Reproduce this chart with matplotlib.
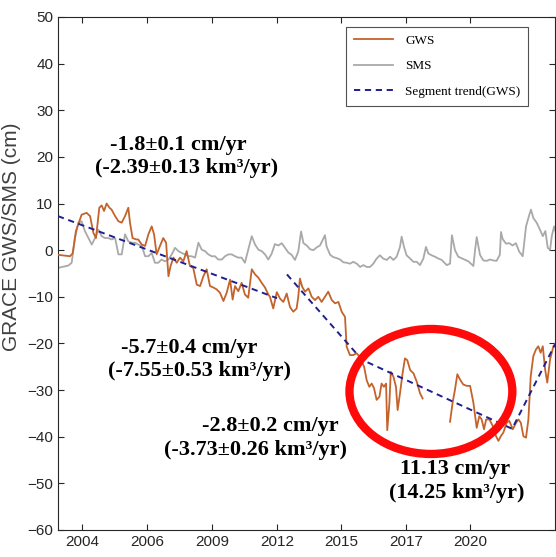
import matplotlib
matplotlib.use("Agg")
import matplotlib.pyplot as plt
from matplotlib.patches import Ellipse
import numpy as np

nan = np.nan

# ---------------- data ----------------
gws_t = [2003.00, 2003.16, 2003.51, 2003.62, 2003.76, 2004.00, 2004.21, 2004.36, 2004.50, 2004.61,
         2004.75, 2004.85, 2004.95, 2005.06, 2005.18, 2005.27, 2005.42, 2005.56, 2005.70, 2005.84,
         2005.98, 2006.05, 2006.16, 2006.31, 2006.40, 2006.55, 2006.69, 2006.83, 2006.97, 2007.07,
         2007.18, 2007.32, 2007.46, 2007.58, 2007.68, 2007.77, 2007.89, 2008.03, 2008.17, 2008.31,
         2008.45, 2008.59, 2008.73, 2008.88, 2009.02, 2009.16, 2009.30, 2009.44, 2009.58, 2009.72,
         2009.86, 2010.01, 2010.15, 2010.29, 2010.40, 2010.50, 2010.64, 2010.78, 2010.92, 2011.06,
         2011.21, 2011.35, 2011.49, 2011.63, 2011.77, 2011.91, 2011.98, 2012.12, 2012.27, 2012.41,
         2012.55, 2012.69, 2012.83, 2012.97, 2013.11, 2013.18, 2013.25, 2013.35, 2013.47, 2013.61,
         2013.75, 2013.89, 2014.03, 2014.17, 2014.31, 2014.45, 2014.60, 2014.74, 2014.88, 2015.02,
         2015.16, 2015.23, 2015.37, 2015.51, 2015.65, 2015.80, 2015.87, 2015.97, 2016.08, 2016.19,
         2016.29, 2016.39, 2016.50, 2016.62, 2016.71, 2016.81, 2016.90, 2016.95, 2017.04, 2017.10,
         2017.21, 2017.32, 2017.39, 2017.49, 2017.60, 2017.70, 2017.80, 2017.92, 2018.06, 2018.20,
         2018.34, 2018.45, 2019.00, 2019.61, 2019.72, 2019.82, 2019.92, 2020.03, 2020.17, 2020.32,
         2020.46, 2020.60, 2020.74, 2020.85, 2020.95, 2021.05, 2021.14, 2021.28, 2021.42, 2021.56,
         2021.66, 2021.76, 2021.87, 2022.01, 2022.12, 2022.27, 2022.41, 2022.51, 2022.61, 2022.72,
         2022.83, 2022.93, 2023.03, 2023.14, 2023.25, 2023.35, 2023.45, 2023.54, 2023.64, 2023.73,
         2023.85, 2023.99, 2024.10]
gws_v = [-1.0, -1.1, -1.3, -0.7, 4.1, 7.6, 8.0, 7.3, 3.7, 2.6,
         9.1, 9.6, 8.4, 10.0, 9.1, 8.7, 7.3, 6.2, 5.9, 7.3,
         9.1, 5.9, 2.6, 2.3, 2.3, 1.2, 0.9, 3.4, 5.1, 3.4,
         -0.9, 0.9, 2.6, 1.6, -5.6, -3.4, -1.6, -2.7, -1.6, -2.4,
         -0.2, -3.4, -3.8, -7.4, -7.7, -5.6, -4.1, -7.7, -8.0, -8.4,
         -9.1, -10.9, -9.1, -6.3, -10.6, -7.7, -8.8, -7.0, -9.5, -10.2,
         -4.1, -5.2, -5.9, -7.0, -8.0, -9.5, -10.0, -12.5, -9.0, -10.4,
         -11.1, -9.3, -12.2, -13.2, -12.5, -10.0, -6.1, -7.9, -8.9, -8.2,
         -10.0, -10.7, -10.0, -11.1, -10.0, -8.9, -10.7, -11.4, -11.1, -13.2,
         -14.3, -20.7, -22.5, -22.5, -22.1, -22.9, -23.9, -25.0, -27.9, -29.3,
         -28.6, -29.6, -32.1, -31.4, -28.6, -29.3, -28.6, -38.6, -32.9, -26.1,
         -27.1, -29.3, -34.3, -30.7, -26.4, -23.2, -23.6, -25.7, -26.4, -28.2,
         -30.7, -31.8, nan, -36.8, -32.7, -29.9, -26.6, -27.7, -28.8, -29.1,
         -29.1, -32.7, -38.1, -35.6, -36.3, -38.4, -36.3, -36.3, -37.7, -39.9,
         -40.9, -39.9, -39.1, -37.0, -36.6, -38.4, -37.0, -36.3, -37.0, -39.9,
         -40.2, -36.3, -27.0, -22.7, -21.3, -20.6, -22.0, -20.6, -25.6, -28.4,
         -23.4, -20.6, -19.9]

sms_t = [2003.00, 2003.44, 2003.58, 2003.72, 2003.86, 2004.00, 2004.14, 2004.29, 2004.43, 2004.57,
         2004.71, 2004.85, 2004.99, 2005.13, 2005.27, 2005.42, 2005.56, 2005.70, 2005.84, 2005.98,
         2006.12, 2006.26, 2006.40, 2006.55, 2006.69, 2006.83, 2006.97, 2007.11, 2007.25, 2007.39,
         2007.53, 2007.68, 2007.82, 2007.96, 2008.10, 2008.24, 2008.38, 2008.52, 2008.66, 2008.81,
         2008.95, 2009.09, 2009.23, 2009.37, 2009.51, 2009.65, 2009.79, 2009.94, 2010.08, 2010.22,
         2010.36, 2010.50, 2010.64, 2010.78, 2010.92, 2011.06, 2011.21, 2011.35, 2011.49, 2011.63,
         2011.77, 2011.91, 2012.05, 2012.19, 2012.34, 2012.48, 2012.62, 2012.76, 2012.90, 2013.04,
         2013.18, 2013.30, 2013.40, 2013.54, 2013.68, 2013.82, 2013.96, 2014.10, 2014.31, 2014.38,
         2014.53, 2014.67, 2014.81, 2014.95, 2015.09, 2015.23, 2015.37, 2015.51, 2015.66, 2015.80,
         2015.94, 2016.08, 2016.22, 2016.36, 2016.50, 2016.64, 2016.78, 2016.93, 2017.07, 2017.21,
         2017.35, 2017.49, 2017.56, 2017.66, 2017.77, 2017.92, 2018.06, 2018.20, 2018.34, 2018.48,
         2018.59, 2018.69, 2018.83, 2018.97, 2019.12, 2019.26, 2019.47, 2019.61, 2019.69, 2019.82,
         2019.96, 2020.17, 2020.39, 2020.60, 2020.67, 2020.74, 2020.88, 2021.02, 2021.16, 2021.30,
         2021.44, 2021.58, 2021.72, 2021.77, 2021.84, 2021.98, 2022.12, 2022.26, 2022.40, 2022.54,
         2022.69, 2022.83, 2022.97, 2023.04, 2023.14, 2023.28, 2023.42, 2023.54, 2023.65, 2023.75,
         2023.85, 2023.92, 2024.02, 2024.10]
sms_v = [-3.8, -3.3, -2.7, 2.6, 5.9, 6.2, 4.1, 2.6, 1.2, 2.6,
         4.4, 3.0, 2.6, 2.6, 2.3, 2.6, -0.9, -0.9, 3.4, 1.9,
         1.6, 1.6, 1.2, 0.9, -1.3, -1.3, -0.6, -2.7, -2.7, -2.0,
         -2.4, -2.0, -0.9, 0.5, -0.2, -0.6, -0.9, -1.3, -1.3, -1.6,
         1.6, 0.1, -0.2, -0.9, -1.3, -1.3, -2.0, -2.0, -1.3, -0.9,
         -0.9, -1.3, -1.6, -1.6, -2.7, 0.1, 3.0, 1.2, 0.1, -0.2,
         -0.9, -2.0, -0.8, 1.3, 1.0, 1.5, 0.5, -0.5, -1.0, -2.1,
         -0.3, 4.0, 1.5, 1.0, 0.2, 0.0, 0.6, 1.0, 3.2, 0.8,
         -1.0, -1.5, -1.7, -2.0, -2.6, -2.7, -2.9, -2.5, -2.9, -3.6,
         -3.2, -3.6, -3.6, -2.9, -1.8, -1.1, -1.8, -2.1, -1.4, -2.1,
         -1.4, 0.7, 2.9, 0.7, -1.1, -1.8, -2.5, -2.5, -3.2, -1.8,
         0.7, -0.7, -1.1, -1.4, -1.8, -2.1, -3.2, -2.9, 3.2, 0.0,
         -1.4, -1.9, -2.4, -3.4, 0.0, 2.8, -1.0, -2.2, -2.3, -2.0,
         -2.2, -2.3, -1.0, 3.9, 2.4, 1.4, 1.5, 1.0, 1.5, -0.3,
         -1.3, 5.1, 7.6, 8.7, 6.9, 5.9, 4.4, 3.0, 4.1, 0.5,
         0.1, 3.0, 5.1, 3.7]

trend_t = [2003.00, 2012.28, nan, 2012.70, 2015.88, 2022.24, 2024.06]
trend_v = [7.3, -10.3, nan, -5.2, -23.5, -38.3, -20.2]

xtick_pos = [2004.02, 2006.78, 2009.53, 2012.28, 2014.99, 2017.75, 2020.46]
xtick_labels = ["2004", "2006", "2009", "2012", "2015", "2017", "2020"]
yticks = list(range(-60, 51, 10))

annotations = [
    ("-1.8\u00b10.1 cm/yr", 0.320, 0.740),
    ("(-2.39\u00b10.13 km\u00b3/yr)", 0.336, 0.698),
    ("-5.7\u00b10.4 cm/yr", 0.341, 0.375),
    ("(-7.55\u00b10.53 km\u00b3/yr)", 0.358, 0.334),
    ("-2.8\u00b10.2 cm/yr", 0.487, 0.235),
    ("(-3.73\u00b10.26 km\u00b3/yr)", 0.459, 0.192),
    ("11.13 cm/yr", 0.818, 0.158),
    ("(14.25 km\u00b3/yr)", 0.822, 0.115),
]

# ---------------- styling ----------------
c_gws = "#c4632b"
c_sms = "#a9a9a9"
c_trend = "#1f1f8f"
c_axis = "#262626"

fig = plt.figure(figsize=(5.56, 5.57), dpi=100, facecolor="white")
ax = fig.add_axes([0.1043, 0.0485, 0.894, 0.921])

ax.plot(sms_t, sms_v, color=c_sms, lw=1.3, label="SMS", zorder=2)
ax.plot(gws_t, gws_v, color=c_gws, lw=1.3, label="GWS", zorder=3)
ax.plot(trend_t, trend_v, color=c_trend, lw=1.4, dashes=(3.2, 2.4), label="Segment trend(GWS)", zorder=4)

ell = Ellipse((2018.8, -30.3), 6.9, 26.8, fill=False, edgecolor="#ff0a0a", lw=6.0, zorder=5)
ax.add_patch(ell)

ax.set_xlim(2003.0, 2024.06)
ax.set_ylim(-60, 50)
ax.set_xticks(xtick_pos)
ax.set_xticklabels(xtick_labels)
ax.set_yticks(yticks)
ax.tick_params(direction="in", length=4, width=0.8, top=True, right=True,
               colors=c_axis, labelsize=11, labelcolor=c_axis)
for lab in ax.get_xticklabels() + ax.get_yticklabels():
    lab.set_family("Liberation Sans")
for s in ax.spines.values():
    s.set_color(c_axis)
    s.set_linewidth(0.8)

ax.set_ylabel("GRACE GWS/SMS (cm)", family="Liberation Sans", fontsize=15, color="#404040", labelpad=2)
ax.yaxis.set_label_coords(-0.075, 0.571)

h, l = ax.get_legend_handles_labels()
order = [1, 0, 2]
leg = ax.legend([h[i] for i in order], [l[i] for i in order], loc="upper right",
                bbox_to_anchor=(0.946, 0.981), borderaxespad=0, frameon=True, fancybox=False,
                prop={"family": "Liberation Serif", "size": 9.5}, handlelength=3.0,
                handletextpad=0.9, labelspacing=1.0, borderpad=0.6)
leg.get_frame().set_edgecolor(c_axis)
leg.get_frame().set_linewidth(0.8)

for txt, fx, fy in annotations:
    fig.text(fx, fy, txt, ha="center", va="center", family="Liberation Serif",
             fontweight="bold", fontsize=16, color="black")

fig.savefig("out.png", dpi=100, facecolor=fig.get_facecolor())
